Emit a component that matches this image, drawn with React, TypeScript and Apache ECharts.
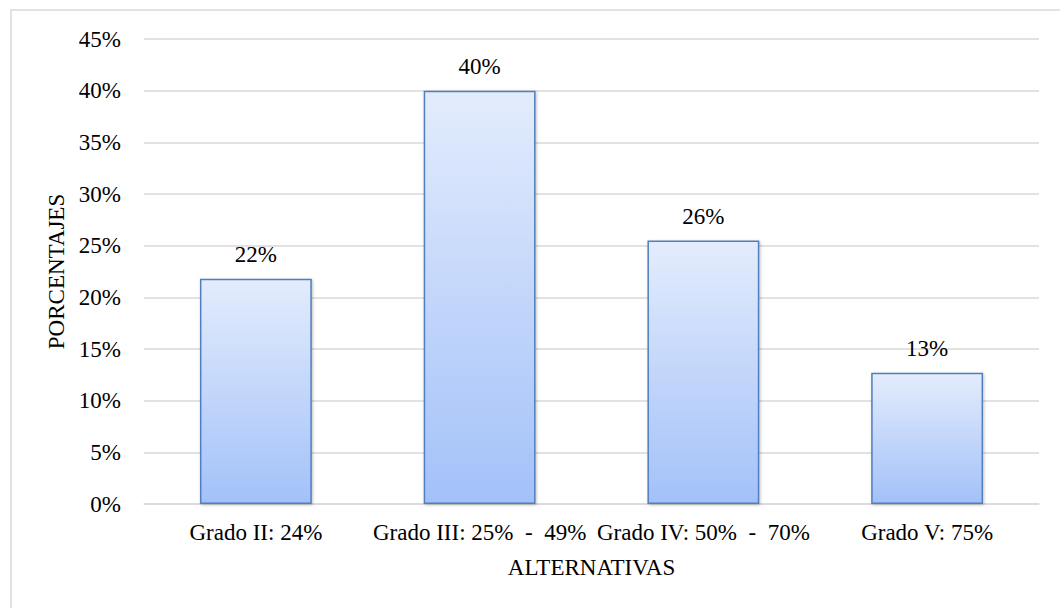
import React, { useEffect, useRef } from "react";
import * as echarts from "echarts";

const categories = ["Grado II: 24%", "Grado III: 25%  -  49%", "Grado IV: 50%  -  70%", "Grado V: 75%"];
const values = [21.8, 40.0, 25.5, 12.7];
const yTicks = { min: 0, max: 45, interval: 5 };
const xName = "ALTERNATIVAS";
const yName = "PORCENTAJES";

const FONT = "'Liberation Serif', 'Times New Roman', serif";
const FS = 23;

export default function App() {
  const ref = useRef<HTMLDivElement>(null);
  useEffect(() => {
    document.body.style.margin = "0";
    const chart = echarts.init(ref.current!, null, { renderer: "svg" });
    chart.setOption({
      animation: false,
      backgroundColor: "#ffffff",
      textStyle: { fontFamily: FONT, color: "#000" },
      graphic: [
        {
          type: "rect",
          shape: { x: 11, y: 10, width: 1070, height: 620 },
          style: { fill: "none", stroke: "#d9d9d9", lineWidth: 1.5 },
          silent: true,
        },
      ],
      grid: { left: 144, right: 21, top: 39, bottom: 104 },
      xAxis: {
        type: "category",
        data: categories,
        name: xName,
        nameLocation: "middle",
        nameGap: 52,
        nameTextStyle: { fontFamily: FONT, fontSize: FS, color: "#000" },
        axisLine: { show: true, lineStyle: { color: "#d9d9d9", width: 1.5 } },
        axisTick: { show: false },
        axisLabel: { fontFamily: FONT, fontSize: FS, color: "#000", margin: 17, interval: 0 },
      },
      yAxis: {
        type: "value",
        min: yTicks.min,
        max: yTicks.max,
        interval: yTicks.interval,
        name: yName,
        nameLocation: "middle",
        nameGap: 74,
        nameRotate: 90,
        nameTextStyle: { fontFamily: FONT, fontSize: FS, color: "#000" },
        axisLine: { show: false },
        axisTick: { show: false },
        splitLine: { lineStyle: { color: "#d9d9d9", width: 1.5 } },
        axisLabel: { fontFamily: FONT, fontSize: FS, color: "#000", margin: 23, formatter: "{value}%" },
      },
      series: [
        {
          type: "bar",
          data: values,
          barWidth: "50%",
          itemStyle: {
            color: new echarts.graphic.LinearGradient(0, 0, 0, 1, [
              { offset: 0, color: "#e3ecfc" },
              { offset: 1, color: "#a3c1f9" },
            ]),
            borderColor: "#4f7fbf",
            borderWidth: 1.5,
            shadowColor: "rgba(0,0,0,0.25)",
            shadowBlur: 3,
            shadowOffsetX: 1,
            shadowOffsetY: 1,
          },
          label: {
            show: true,
            position: "top",
            distance: 13,
            fontFamily: FONT,
            fontSize: FS,
            color: "#000",
            formatter: (p: any) => Math.round(p.value) + "%",
          },
        },
      ],
    });
    return () => chart.dispose();
  }, []);
  return <div ref={ref} style={{ position: "fixed", left: 0, top: 0, width: 1060, height: 608 }} />;
}
